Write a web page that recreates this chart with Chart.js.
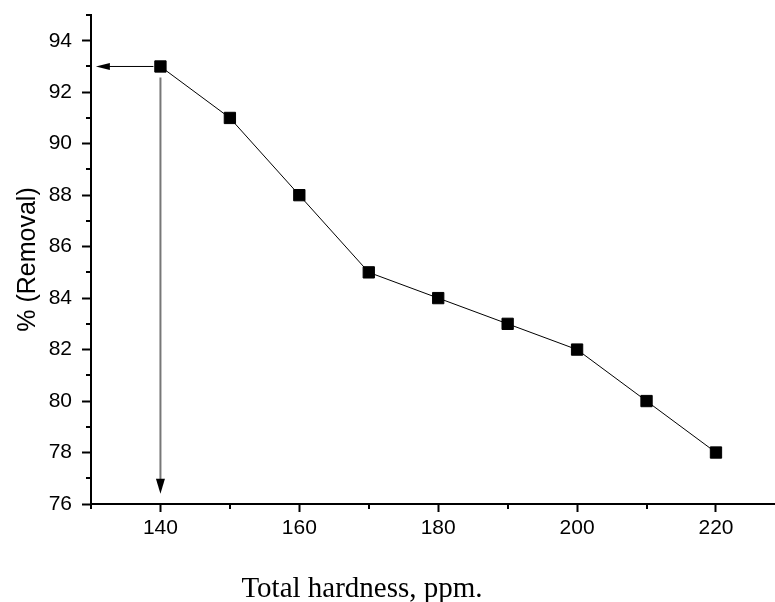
<!DOCTYPE html>
<html>
<head>
<meta charset="utf-8">
<script src="https://cdn.jsdelivr.net/npm/chart.js@4.4.1/dist/chart.umd.min.js"></script>
<style>
body { margin: 0; background: #fff; }
canvas { display: block; }
</style>
</head>
<body>
<canvas id="chart" width="775" height="602"></canvas>
<script>
// total hardness (ppm) vs removal (%)
var hardness = [140, 150, 160, 170, 180, 190, 200, 210, 220]
var removal = [93, 91, 88, 85, 84, 83, 82, 80, 78]

var xTicks = [140, 160, 180, 200, 220]
var xMinor = [130, 150, 170, 190, 210]
var yTicks = [76, 78, 80, 82, 84, 86, 88, 90, 92, 94]
var yMinor = [77, 79, 81, 83, 85, 87, 89, 91, 93, 95]

// arrows from the first point out to both axes
var arrowX = 140
var arrowY = 93
var arrowLeftTo = 130.7
var arrowDownTo = 76.4

var sans = '"Liberation Sans", Arial, Helvetica, sans-serif'
var serif = '"Liberation Serif", "Times New Roman", serif'

var extras = {
    id: 'extras',
    afterDraw: function (chart) {
        var ctx = chart.ctx
        var xs = chart.scales.x
        var ys = chart.scales.y
        var area = chart.chartArea
        ctx.save()

        // minor ticks
        ctx.strokeStyle = '#000'
        ctx.lineWidth = 2
        xMinor.forEach(function (v) {
            var px = Math.round(xs.getPixelForValue(v))
            ctx.beginPath()
            ctx.moveTo(px, area.bottom)
            ctx.lineTo(px, area.bottom + 5)
            ctx.stroke()
        })
        yMinor.forEach(function (v) {
            var py = Math.round(ys.getPixelForValue(v))
            ctx.beginPath()
            ctx.moveTo(area.left, py)
            ctx.lineTo(area.left - 5, py)
            ctx.stroke()
        })

        var x0 = xs.getPixelForValue(arrowX)
        var y0 = ys.getPixelForValue(arrowY)

        // down arrow
        var yEnd = ys.getPixelForValue(arrowDownTo)
        ctx.strokeStyle = '#777'
        ctx.lineWidth = 2
        ctx.beginPath()
        ctx.moveTo(x0, y0 + 11)
        ctx.lineTo(x0, yEnd - 12)
        ctx.stroke()
        ctx.fillStyle = '#000'
        ctx.beginPath()
        ctx.moveTo(x0 - 4.5, yEnd - 15)
        ctx.lineTo(x0 + 4.5, yEnd - 15)
        ctx.lineTo(x0, yEnd)
        ctx.closePath()
        ctx.fill()

        // left arrow
        var xEnd = xs.getPixelForValue(arrowLeftTo)
        ctx.strokeStyle = '#000'
        ctx.lineWidth = 1
        ctx.beginPath()
        ctx.moveTo(x0 - 7, y0)
        ctx.lineTo(xEnd + 12, y0)
        ctx.stroke()
        ctx.beginPath()
        ctx.moveTo(xEnd, y0)
        ctx.lineTo(xEnd + 14, y0 - 3.5)
        ctx.lineTo(xEnd + 14, y0 + 3.5)
        ctx.closePath()
        ctx.fill()

        // x axis title
        ctx.font = '29px ' + serif
        ctx.textAlign = 'center'
        ctx.textBaseline = 'alphabetic'
        ctx.fillText('Total hardness, ppm.', 362, 597)
        ctx.restore()
    }
}

new Chart(document.getElementById('chart'), {
    type: 'line',
    data: {
        datasets: [{
            data: hardness.map(function (h, i) { return { x: h, y: removal[i] } }),
            borderColor: '#000',
            borderWidth: 1,
            backgroundColor: '#000',
            pointStyle: 'rect',
            pointRadius: 8,
            pointBorderWidth: 1,
            pointBackgroundColor: '#000',
            pointBorderColor: '#000',
            tension: 0,
            clip: false
        }]
    },
    options: {
        responsive: false,
        animation: false,
        layout: { autoPadding: false, padding: { top: 15, right: 0, left: 0, bottom: 0 } },
        plugins: {
            legend: { display: false },
            tooltip: { enabled: false }
        },
        scales: {
            x: {
                type: 'linear',
                min: 130,
                max: 228.5,
                afterBuildTicks: function (scale) {
                    scale.ticks = xTicks.map(function (v) { return { value: v } })
                },
                afterFit: function (scale) {
                    scale.height = 98
                    scale.paddingLeft = 0
                    scale.paddingRight = 0
                },
                border: { display: true, color: '#000', width: 2 },
                grid: { drawOnChartArea: false, drawTicks: true, tickLength: 8, tickColor: '#000', tickWidth: 2 },
                ticks: { color: '#000', padding: 4, font: { family: sans, size: 21 }, maxRotation: 0 }
            },
            y: {
                type: 'linear',
                min: 76,
                max: 95,
                afterBuildTicks: function (scale) {
                    scale.ticks = yTicks.map(function (v) { return { value: v } })
                },
                afterFit: function (scale) {
                    scale.width = 91
                    scale.paddingTop = 0
                    scale.paddingBottom = 0
                },
                border: { display: true, color: '#000', width: 2 },
                grid: { drawOnChartArea: false, drawTicks: true, tickLength: 9, tickColor: '#000', tickWidth: 2 },
                ticks: { color: '#000', padding: 10, font: { family: sans, size: 21 } },
                title: {
                    display: true,
                    text: '% (Removal)',
                    color: '#000',
                    font: { family: sans, size: 25 },
                    padding: { top: 13, bottom: 0 }
                }
            }
        }
    },
    plugins: [extras]
});
</script>
</body>
</html>
